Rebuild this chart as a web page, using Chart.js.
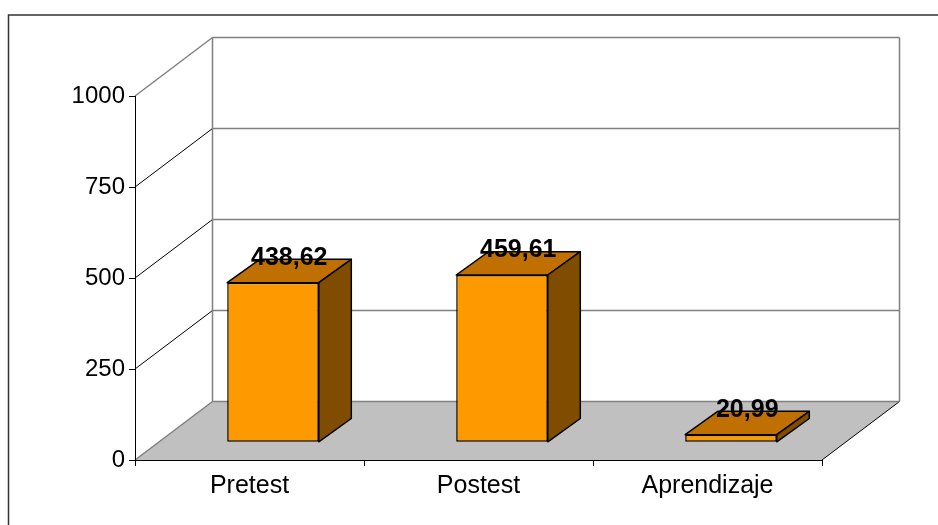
<!DOCTYPE html>
<html lang="es">
<head>
<meta charset="UTF-8">
<title>Pretest / Postest / Aprendizaje</title>
<script src="https://cdn.jsdelivr.net/npm/chart.js"></script>
<style>
    body { margin: 0; background: #fff; }
    canvas { display: block; }
</style>
</head>
<body>
<canvas id="chart" width="938" height="525"></canvas>
<script>
    const categories = ['Pretest', 'Postest', 'Aprendizaje'];
    const values = [438.62, 459.61, 20.99];
    const yTicks = [0, 250, 500, 750, 1000];

    // 3D look: wall depth, bar shift from the front plane, bar depth
    const WALL = { dx: 77.5, dy: -58.5 };
    const SHIFT = { dx: 23.5, dy: -17.7 };
    const DEPTH = { dx: 32.5, dy: -23.3 };

    function line(ctx, x1, y1, x2, y2) {
        ctx.beginPath();
        ctx.moveTo(x1, y1);
        ctx.lineTo(x2, y2);
        ctx.stroke();
    }

    const walls = {
        id: 'walls',
        beforeDraw(chart) {
            const ctx = chart.ctx;
            const a = chart.chartArea;
            const y = chart.scales.y;
            ctx.save();
            ctx.fillStyle = '#fff';
            ctx.fillRect(0, 0, chart.width, chart.height);

            // outer frame (only left and top are visible)
            ctx.strokeStyle = '#333';
            ctx.lineWidth = 1.5;
            ctx.beginPath();
            ctx.moveTo(8.5, chart.height);
            ctx.lineTo(8.5, 15);
            ctx.lineTo(chart.width, 15);
            ctx.stroke();

            // floor
            ctx.fillStyle = '#c0c0c0';
            ctx.beginPath();
            ctx.moveTo(a.left, a.bottom);
            ctx.lineTo(a.right, a.bottom);
            ctx.lineTo(a.right + WALL.dx, a.bottom + WALL.dy);
            ctx.lineTo(a.left + WALL.dx, a.bottom + WALL.dy);
            ctx.closePath();
            ctx.fill();
            ctx.strokeStyle = '#000';
            ctx.lineWidth = 1;
            line(ctx, a.right, a.bottom, a.right + WALL.dx, a.bottom + WALL.dy);

            // grid lines on side and back wall
            const top = yTicks[yTicks.length - 1];
            yTicks.forEach(v => {
                const py = y.getPixelForValue(v);
                ctx.strokeStyle = (v === 0 || v === top) ? '#808080' : '#000';
                ctx.lineWidth = (v === 0 || v === top) ? 1.5 : 1;
                line(ctx, a.left, py, a.left + WALL.dx, py + WALL.dy);
                ctx.strokeStyle = '#808080';
                ctx.lineWidth = 1.5;
                line(ctx, a.left + WALL.dx, py + WALL.dy, a.right + WALL.dx, py + WALL.dy);
            });

            // back wall verticals
            ctx.strokeStyle = '#808080';
            ctx.lineWidth = 1.5;
            line(ctx, a.left + WALL.dx, a.top + WALL.dy, a.left + WALL.dx, a.bottom + WALL.dy);
            line(ctx, a.right + WALL.dx, a.top + WALL.dy, a.right + WALL.dx, a.bottom + WALL.dy);
            ctx.restore();
        }
    };

    const bars3d = {
        id: 'bars3d',
        beforeDatasetsDraw(chart) {
            chart.ctx.save();
            chart.ctx.translate(SHIFT.dx, SHIFT.dy);
        },
        afterDatasetsDraw(chart) {
            const ctx = chart.ctx;
            const meta = chart.getDatasetMeta(0);
            ctx.strokeStyle = '#000';
            ctx.lineWidth = 1.5;
            ctx.lineJoin = 'round';
            meta.data.forEach(bar => {
                const l = bar.x - bar.width / 2, r = bar.x + bar.width / 2;
                const t = bar.y, b = bar.base;
                // top face
                ctx.fillStyle = '#c07000';
                ctx.beginPath();
                ctx.moveTo(l, t);
                ctx.lineTo(l + DEPTH.dx, t + DEPTH.dy);
                ctx.lineTo(r + DEPTH.dx, t + DEPTH.dy);
                ctx.lineTo(r, t);
                ctx.closePath();
                ctx.fill();
                ctx.stroke();
                // side face
                ctx.fillStyle = '#7f4c00';
                ctx.beginPath();
                ctx.moveTo(r, t);
                ctx.lineTo(r + DEPTH.dx, t + DEPTH.dy);
                ctx.lineTo(r + DEPTH.dx, b + DEPTH.dy);
                ctx.lineTo(r, b);
                ctx.closePath();
                ctx.fill();
                ctx.stroke();
            });
            ctx.restore();

            // value labels
            ctx.save();
            ctx.font = 'bold 25px "Liberation Sans", Arial, sans-serif';
            ctx.fillStyle = '#000';
            ctx.textAlign = 'center';
            ctx.textBaseline = 'middle';
            meta.data.forEach((bar, i) => {
                const lx = bar.x + SHIFT.dx + DEPTH.dx / 2;
                const ly = bar.y + SHIFT.dy + DEPTH.dy / 2 - 13;
                ctx.fillText(values[i].toFixed(2).replace('.', ','), lx, ly);
            });
            ctx.restore();
        }
    };

    new Chart(document.getElementById('chart'), {
        type: 'bar',
        data: {
            labels: categories,
            datasets: [{
                data: values,
                backgroundColor: '#ff9900',
                borderColor: '#000',
                borderWidth: 1.5,
                borderSkipped: false,
                barPercentage: 0.4,
                categoryPercentage: 1
            }]
        },
        options: {
            responsive: false,
            animation: false,
            layout: { padding: { top: 96, right: 116, left: 0, bottom: 0 } },
            plugins: {
                legend: { display: false },
                tooltip: { enabled: false }
            },
            scales: {
                x: {
                    grid: { drawOnChartArea: false, tickLength: 6, color: '#000', offset: true },
                    border: { color: '#000', width: 1 },
                    ticks: {
                        font: { family: 'Liberation Sans', size: 25 },
                        color: '#000',
                        padding: 5
                    },
                    afterFit(scale) { scale.height = 65; }
                },
                y: {
                    min: 0,
                    max: 1000,
                    afterBuildTicks(scale) { scale.ticks = yTicks.map(v => ({ value: v })); },
                    grid: { drawOnChartArea: false, tickLength: 6, color: '#000' },
                    border: { color: '#000', width: 1 },
                    ticks: {
                        font: { family: 'Liberation Sans', size: 24 },
                        color: '#000',
                        padding: 4,
                        callback: v => String(v)
                    },
                    afterFit(scale) { scale.width = 135; }
                }
            }
        },
        plugins: [walls, bars3d]
    });
</script>
</body>
</html>
